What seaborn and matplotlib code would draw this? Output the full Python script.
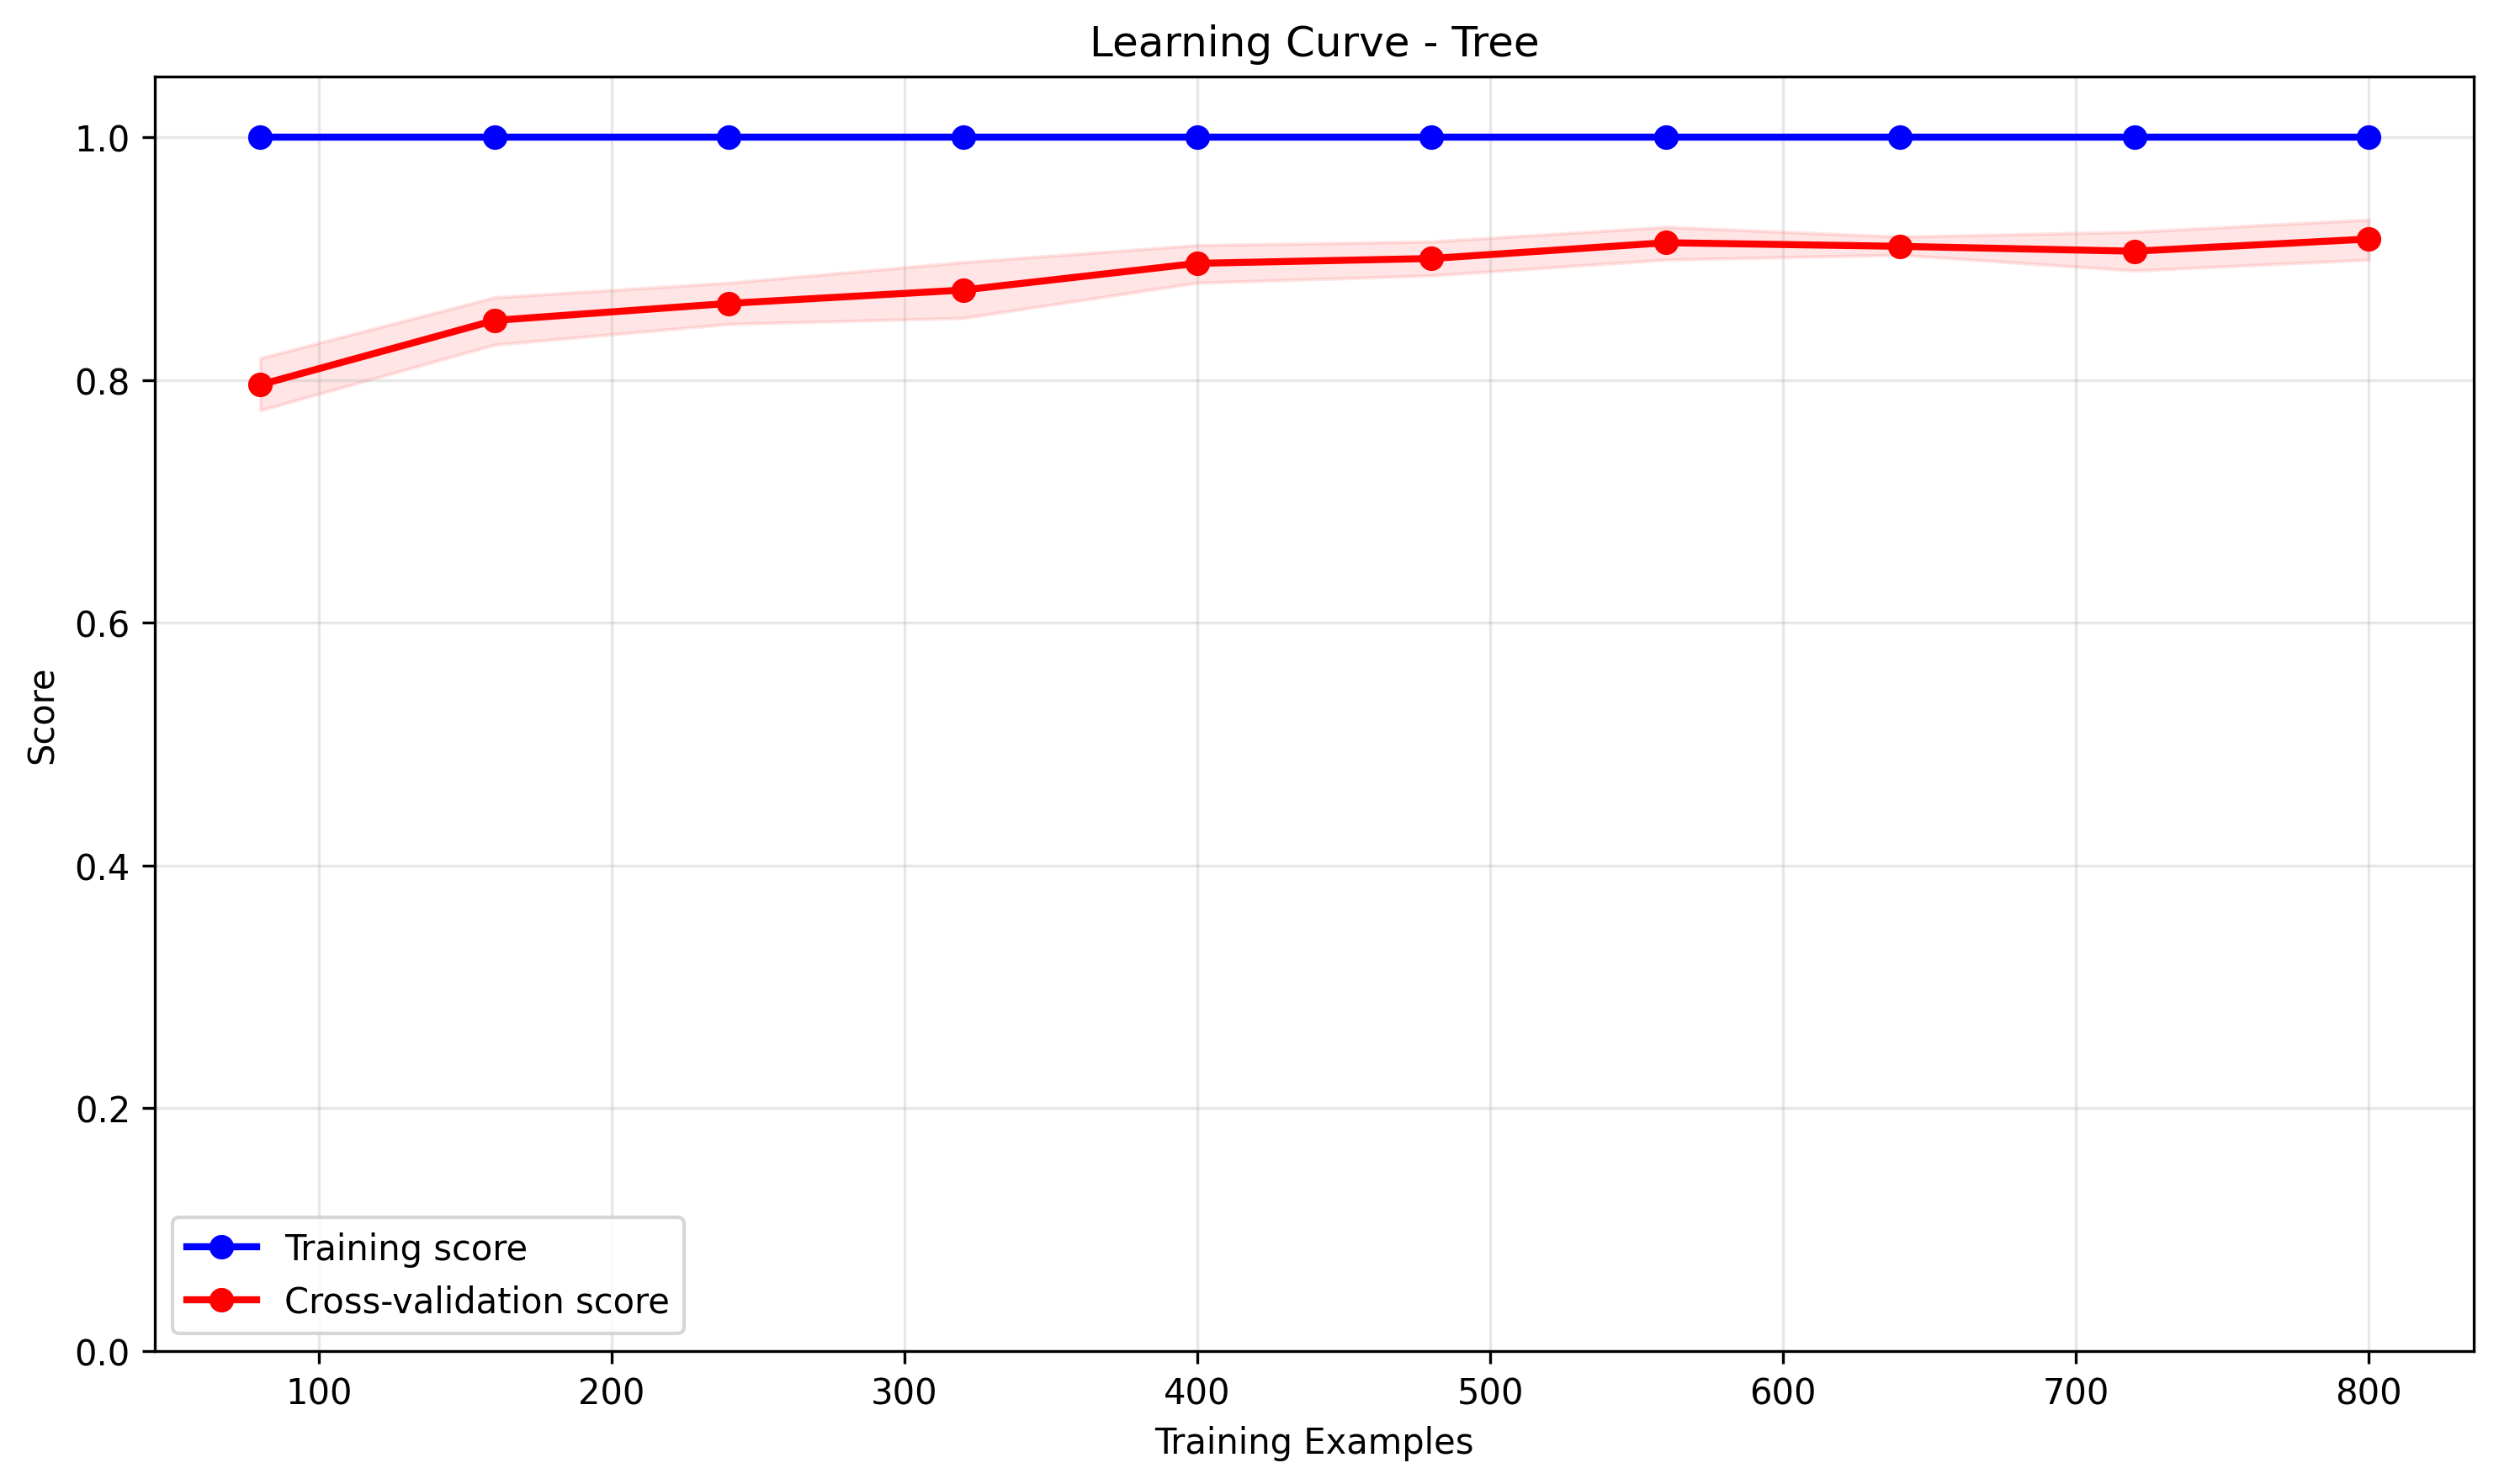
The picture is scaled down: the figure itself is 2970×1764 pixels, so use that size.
#!/usr/bin/env python3

import numpy as np
import pandas as pd
import seaborn as sns
import matplotlib.pyplot as plt

train_sizes = [80, 160, 240, 320, 400, 480, 560, 640, 720, 800]
train_mean = [1.0, 1.0, 1.0, 1.0, 1.0, 1.0, 1.0, 1.0, 1.0, 1.0]
train_std = [0.0, 0.0, 0.0, 0.0, 0.0, 0.0, 0.0, 0.0, 0.0, 0.0]
cv_mean = [0.796, 0.849, 0.863, 0.874, 0.896, 0.900, 0.913, 0.910, 0.906, 0.916]
cv_upper = [0.818, 0.868, 0.880, 0.897, 0.911, 0.914, 0.926, 0.918, 0.922, 0.932]
cv_lower = [0.775, 0.829, 0.846, 0.851, 0.880, 0.886, 0.899, 0.903, 0.890, 0.899]

fig, ax = plt.subplots(figsize=(9.9, 5.8833), dpi=300)
fig.subplots_adjust(left=0.062, right=0.990, top=0.948, bottom=0.0895)

df = pd.DataFrame({
    "size": train_sizes * 2,
    "score": train_mean + cv_mean,
    "name": ["Training score"] * 10 + ["Cross-validation score"] * 10,
})

tr = np.array(train_mean)
ts = np.array(train_std)
ax.fill_between(train_sizes, tr - ts, tr + ts, alpha=0.1, color="blue")
ax.fill_between(train_sizes, cv_lower, cv_upper, alpha=0.1, color="red")

sns.lineplot(data=df, x="size", y="score", hue="name",
             palette={"Training score": "blue", "Cross-validation score": "red"},
             marker="o", markersize=6, markeredgewidth=1, linewidth=2,
             ax=ax)
# seaborn gives white marker edges; use the line colour like plain plt.plot
for line in ax.lines:
    line.set_markeredgecolor(line.get_color())

ax.set_ylim(0, 1.05)
ax.grid(True, alpha=0.3)
ax.set_title("Learning Curve - Tree", fontsize=12)
ax.set_xlabel("Training Examples")
ax.set_ylabel("Score")
leg = ax.legend(loc="lower left")
for line in leg.get_lines():
    line.set_markeredgecolor(line.get_color())

fig.savefig("out.png")
